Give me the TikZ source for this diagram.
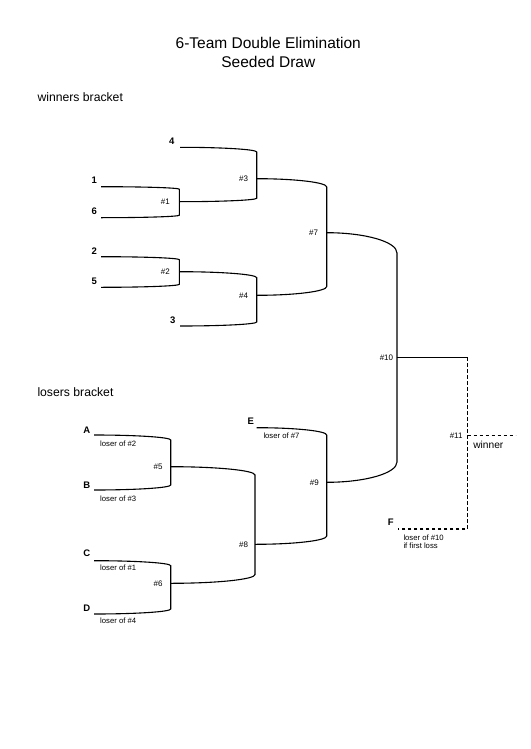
\documentclass[tikz,border=0pt]{standalone}
\usepackage{fontspec}
\setmainfont{Liberation Sans}
\usetikzlibrary{calc}
\tikzset{
  arm/.style={to path={.. controls ($(\tikztostart)!0.552!(\tikztotarget|-\tikztostart)$) and ($(\tikztotarget)!0.552!(\tikztotarget|-\tikztostart)$) .. (\tikztotarget)}},
  armback/.style={to path={.. controls ($(\tikztostart)!0.552!(\tikztostart|-\tikztotarget)$) and ($(\tikztotarget)!0.552!(\tikztostart|-\tikztotarget)$) .. (\tikztotarget)}},
  ln/.style={line width=1.1pt},
  dsh/.style={line width=1.1pt, dash pattern=on 3.5pt off 2.5pt},
  seed/.style={inner sep=0pt, font=\fontsize{9.5}{11}\selectfont\bfseries},
  game/.style={inner sep=0pt, anchor=east, font=\fontsize{8}{9}\selectfont},
  note/.style={inner sep=0pt, anchor=west, font=\fontsize{7.7}{8.4}\selectfont},
  head/.style={inner sep=0pt, font=\fontsize{15.5}{19}\selectfont},
  sect/.style={inner sep=0pt, anchor=west, font=\fontsize{12.2}{14}\selectfont},
}
\begin{document}
\begin{tikzpicture}[x=1pt,y=-1pt]
\useasboundingbox[fill=white] (0,0) rectangle (530,749);
% titles
\node[head] (t1title) at (268.3,43.3) {6-Team Double Elimination};
\node[head] (t2title) at (268.3,62.3) {Seeded Draw};
\node[sect] (wb) at (37.3,96.7) {winners bracket};
\node[sect] (lb) at (37.3,392) {losers bracket};
% ---- winners coordinates
\coordinate (t1) at (101,186.7);
\coordinate (t6) at (101,217.7);
\coordinate (v1a) at (179.3,189.2);
\coordinate (v1b) at (179.3,215.2);
\coordinate (m1) at (179.3,201.7);
\coordinate (t2) at (101,256.7);
\coordinate (t5) at (101,287.3);
\coordinate (v2a) at (179.3,259.7);
\coordinate (v2b) at (179.3,284.3);
\coordinate (m2) at (179.3,271.7);
\coordinate (t4) at (180,147.3);
\coordinate (v3a) at (256.7,152);
\coordinate (v3b) at (256.7,198.2);
\coordinate (m3) at (256.7,178.7);
\coordinate (t3) at (180,326);
\coordinate (v4a) at (256.7,277.7);
\coordinate (v4b) at (256.7,322);
\coordinate (m4) at (256.7,295.3);
\coordinate (v7a) at (326.7,187);
\coordinate (v7b) at (326.7,286.5);
\coordinate (m7) at (326.7,232.7);
\coordinate (v10a) at (397,253);
\coordinate (v10b) at (397,462);
\coordinate (m10) at (397,357.3);
% ---- losers coordinates
\coordinate (tA) at (94,435);
\coordinate (tB) at (94,490);
\coordinate (v5a) at (170.7,440);
\coordinate (v5b) at (170.7,485);
\coordinate (m5) at (170.7,466.7);
\coordinate (tC) at (94,560.7);
\coordinate (tD) at (94,614);
\coordinate (v6a) at (170.7,565.7);
\coordinate (v6b) at (170.7,609);
\coordinate (m6) at (170.7,583.3);
\coordinate (v8a) at (255,475);
\coordinate (v8b) at (255,574.5);
\coordinate (m8) at (255,544.3);
\coordinate (tE) at (256.7,427.7);
\coordinate (v9a) at (326.7,435);
\coordinate (v9b) at (326.7,536);
\coordinate (m9) at (326.7,482.3);
% ---- final
\coordinate (w) at (467.7,357.3);
\coordinate (f1) at (467.7,529);
\coordinate (f0) at (398.3,529);
\coordinate (m11) at (467.7,435.7);
\coordinate (win) at (515.7,435.7);
% ---- bracket lines
\draw[ln] (t1) to[arm] (v1a) -- (v1b) to[armback] (t6);
\draw[ln] (t2) to[arm] (v2a) -- (v2b) to[armback] (t5);
\draw[ln] (t4) to[arm] (v3a) -- (v3b) to[armback] (m1);
\draw[ln] (m2) to[arm] (v4a) -- (v4b) to[armback] (t3);
\draw[ln] (m3) to[arm] (v7a) -- (v7b) to[armback] (m4);
\draw[ln] (m7) to[arm] (v10a) -- (v10b) to[armback] (m9);
\draw[ln] (tA) to[arm] (v5a) -- (v5b) to[armback] (tB);
\draw[ln] (tC) to[arm] (v6a) -- (v6b) to[armback] (tD);
\draw[ln] (m5) to[arm] (v8a) -- (v8b) to[armback] (m6);
\draw[ln] (tE) to[arm] (v9a) -- (v9b) to[armback] (m8);
\draw[ln] (m10) -- (w);
\draw[dsh] (w) -- (f1) -- (f0);
\draw[dsh] (m11) -- (win);
% ---- seeds
\node[seed] (s4) at (171.7,141.7) {4};
\node[seed] (s1) at (94.3,180) {1};
\node[seed] (s6) at (94.3,211) {6};
\node[seed] (s2) at (94.3,250.7) {2};
\node[seed] (s5) at (94.3,281) {5};
\node[seed] (s3) at (172.7,320) {3};
\node[seed] (sA) at (86.7,430) {A};
\node[seed] (sB) at (86.7,485) {B};
\node[seed] (sC) at (86.7,553.3) {C};
\node[seed] (sD) at (86.7,608.3) {D};
\node[seed] (sE) at (250.7,421.7) {E};
\node[seed] (sF) at (390.7,522.7) {F};
% ---- notes
\node[note] (nA) at (100,444) {loser of \#2};
\node[note] (nB) at (100,498.3) {loser of \#3};
\node[note] (nC) at (100,567.3) {loser of \#1};
\node[note] (nD) at (100,620.7) {loser of \#4};
\node[note] (nE) at (263.3,435.7) {loser of \#7};
\node[note] (nF1) at (403.3,537.3) {loser of \#10};
\node[note] (nF2) at (403.3,545.7) {if first loss};
% ---- game labels
\node[game] (g1) at (170,201.7) {\#1};
\node[game] (g2) at (170,271.7) {\#2};
\node[game] (g3) at (248.3,178.7) {\#3};
\node[game] (g4) at (248.3,295.3) {\#4};
\node[game] (g7) at (318.3,232.7) {\#7};
\node[game] (g10) at (393.3,357.3) {\#10};
\node[game] (g11) at (462.7,435.7) {\#11};
\node[game] (g5) at (162.7,466.7) {\#5};
\node[game] (g6) at (162.7,583.3) {\#6};
\node[game] (g8) at (248.3,544.3) {\#8};
\node[game] (g9) at (319,482.3) {\#9};
\node[inner sep=0pt, font=\fontsize{10.2}{12}\selectfont] (winner) at (488.3,445) {winner};
\end{tikzpicture}
\end{document}
